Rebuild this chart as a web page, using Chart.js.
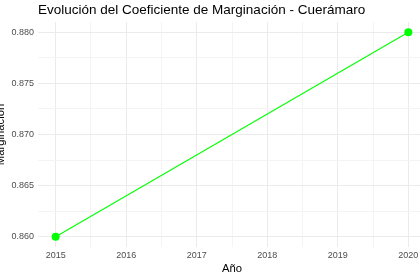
<!DOCTYPE html>
<html>
<head>
<meta charset="utf-8">
<script src="https://cdn.jsdelivr.net/npm/chart.js@4.4.0/dist/chart.umd.min.js"></script>
<style>
  html, body { margin: 0; padding: 0; background: #ffffff; overflow: hidden; width: 420px; height: 278px; }
  #wrap { position: absolute; left: -10px; top: 0; width: 440px; height: 278px; }
  canvas { display: block; }
</style>
</head>
<body>
<div id="wrap"><canvas id="c" width="440" height="278"></canvas></div>
<script>
// ---- data ----
const years = [2015, 2020];
const coeficiente = [0.860, 0.880];
const xTickValues = [2015, 2016, 2017, 2018, 2019, 2020];
const yTickValues = [0.860, 0.865, 0.870, 0.875, 0.880];
const chartTitle = 'Evolución del Coeficiente de Marginación - Cuerámaro';
const xTitle = 'Año';
const yTitle = 'Marginación';

const FONT = '"Liberation Sans", Arial, Helvetica, sans-serif';

function withMinors(majors) {
  const out = [];
  for (let i = 0; i < majors.length; i++) {
    out.push({ value: majors[i], major: true });
    if (i < majors.length - 1) out.push({ value: (majors[i] + majors[i + 1]) / 2, major: false });
  }
  return out;
}
function isMajor(list, v) {
  return list.some(m => Math.abs(m - v) < 1e-9);
}

new Chart(document.getElementById('c'), {
  type: 'line',
  data: {
    datasets: [{
      data: years.map((y, i) => ({ x: y, y: coeficiente[i] })),
      borderColor: '#00ff00',
      backgroundColor: '#00ff00',
      borderWidth: 1.1,
      pointRadius: 4,
      pointBorderWidth: 0,
      pointBackgroundColor: '#00ff00',
      fill: false,
      tension: 0
    }]
  },
  options: {
    responsive: false,
    animation: false,
    devicePixelRatio: 1,
    layout: { padding: { left: 0, right: 1, top: 0, bottom: 0 } },
    plugins: {
      legend: { display: false },
      tooltip: { enabled: false },
      title: {
        display: true,
        text: chartTitle,
        align: 'start',
        fullSize: false,
        color: '#000000',
        font: { family: FONT, size: 13.5, weight: 'normal' },
        padding: { top: 2, bottom: 3.8 }
      }
    },
    scales: {
      x: {
        type: 'linear',
        min: 2014.75,
        max: 2020.25,
        afterBuildTicks: s => { s.ticks = withMinors(xTickValues); },
        afterFit: s => { s.height = 31; s.paddingLeft = 0; s.paddingRight = 0; },
        border: { display: false },
        grid: {
          drawTicks: false,
          color: c => isMajor(xTickValues, c.tick.value) ? '#ebebeb' : '#f4f4f4',
          lineWidth: 1
        },
        ticks: {
          autoSkip: false,
          maxRotation: 0,
          padding: 3,
          color: '#4d4d4d',
          font: { family: FONT, size: 9 },
          callback: v => isMajor(xTickValues, v) ? String(v) : ''
        },
        title: {
          display: true,
          text: xTitle,
          color: '#000000',
          font: { family: FONT, size: 11.25 },
          padding: { top: 0, bottom: 2 }
        }
      },
      y: {
        type: 'linear',
        min: 0.859,
        max: 0.881,
        afterBuildTicks: s => { s.ticks = withMinors(yTickValues); },
        afterFit: s => { s.width = 48; s.paddingTop = 0; s.paddingBottom = 0; },
        border: { display: false },
        grid: {
          drawTicks: false,
          color: c => isMajor(yTickValues, c.tick.value) ? '#ebebeb' : '#f4f4f4',
          lineWidth: 1
        },
        ticks: {
          autoSkip: false,
          padding: 4,
          color: '#4d4d4d',
          font: { family: FONT, size: 9 },
          callback: v => isMajor(yTickValues, v) ? v.toFixed(3) : ''
        },
        title: {
          display: true,
          text: yTitle,
          color: '#000000',
          font: { family: FONT, size: 11.25 },
          padding: { top: 4, bottom: 0 }
        }
      }
    }
  }
});
</script>
</body>
</html>
